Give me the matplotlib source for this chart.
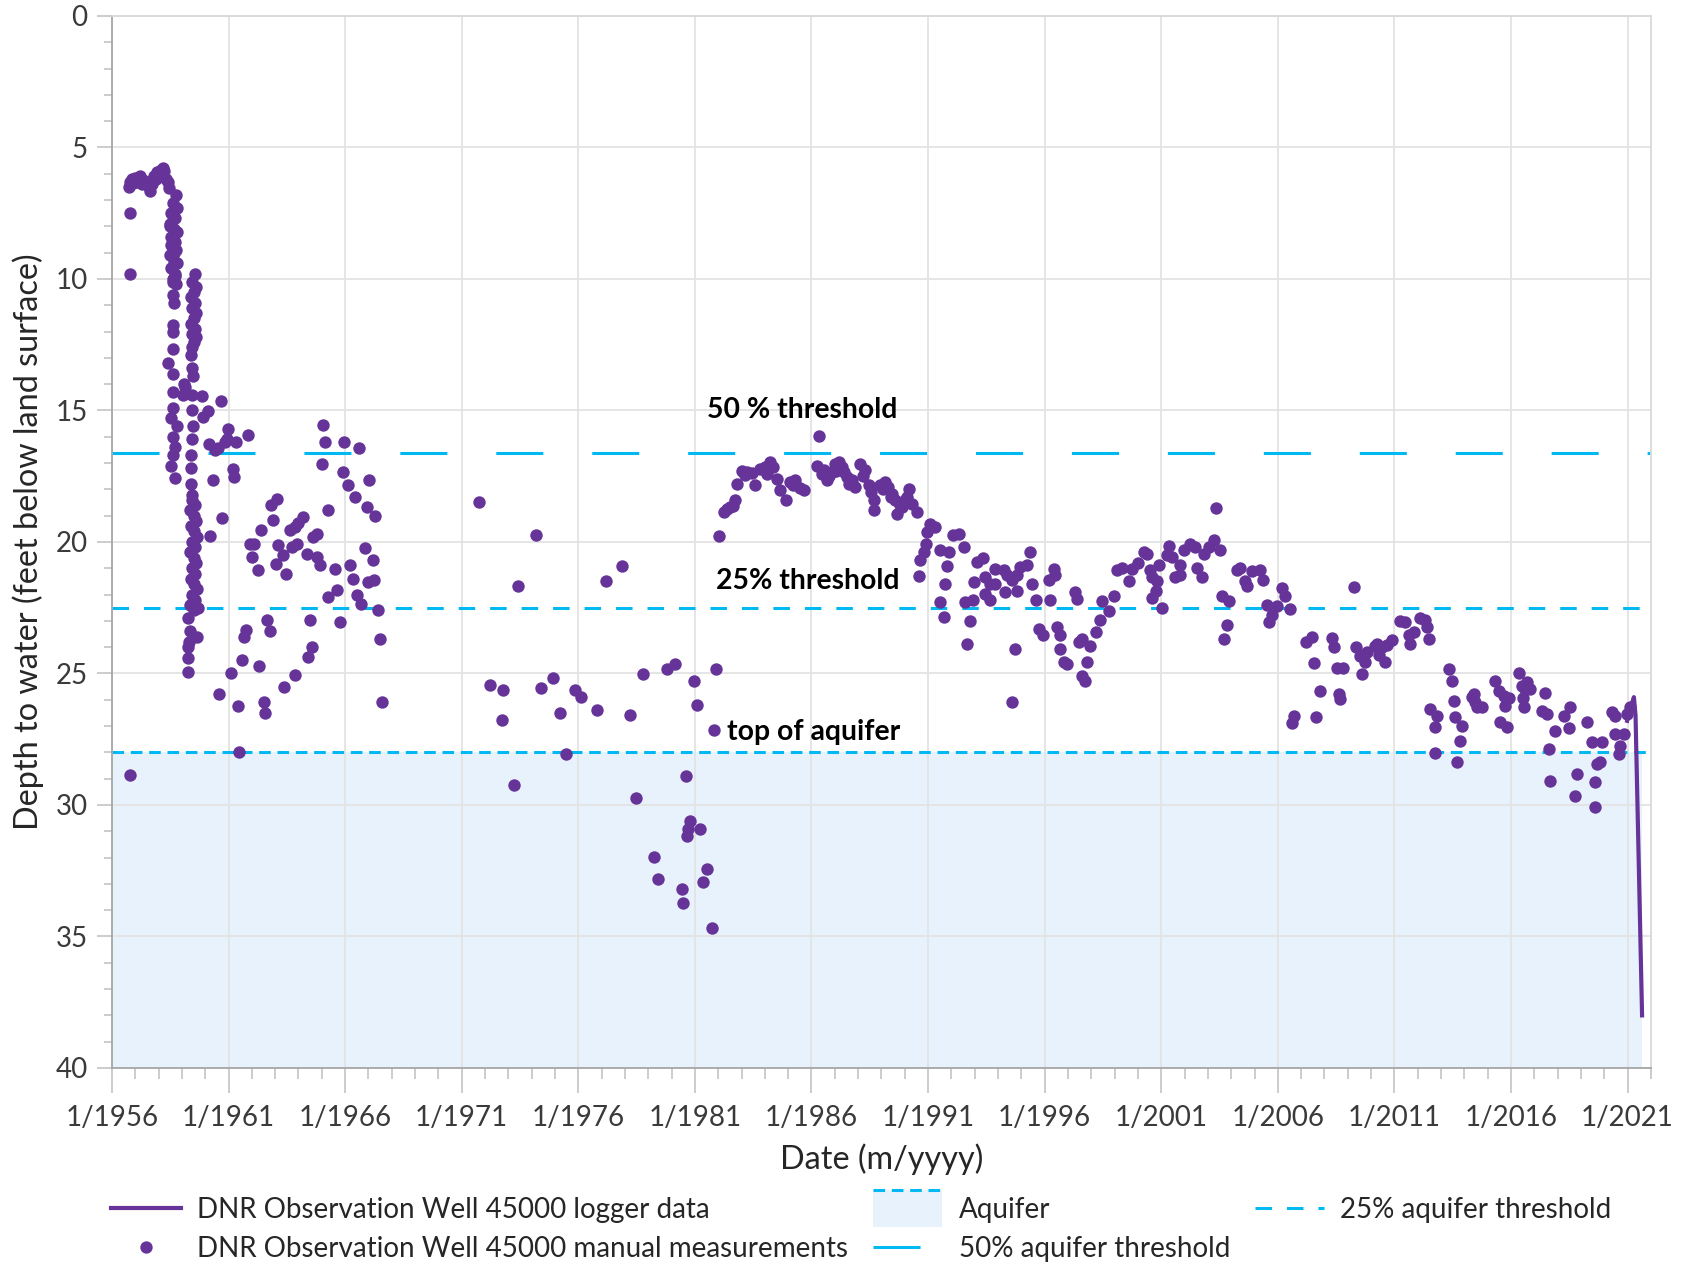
import numpy as np
import matplotlib.pyplot as plt
from matplotlib.lines import Line2D
from matplotlib.patches import Patch, Rectangle
from matplotlib.legend_handler import HandlerBase
from matplotlib.ticker import MultipleLocator

plt.rcParams['font.family'] = ['Lato', 'DejaVu Sans']

# Manual measurements, (decimal year, depth to water in ft) grouped by period
manual_1956_band = [
    (1956.72, 6.50), (1956.78, 6.30), (1956.85, 6.20), (1956.90, 6.35), (1956.98, 6.15),
    (1957.05, 6.30), (1957.12, 6.20), (1957.20, 6.10), (1957.28, 6.40), (1957.35, 6.25),
    (1957.42, 6.35), (1957.50, 6.30), (1957.58, 6.50), (1957.65, 6.65), (1957.72, 6.40),
    (1957.80, 6.10), (1957.88, 6.20), (1957.95, 5.95), (1958.02, 6.05), (1958.10, 5.85),
    (1958.18, 5.80), (1958.25, 5.90), (1958.32, 6.20), (1958.40, 6.30), (1958.45, 6.55),
    (1956.77, 7.50), (1956.77, 9.82), (1956.77, 28.85),
]
manual_1958_col = [
    (1958.75, 6.80), (1958.60, 7.10), (1958.80, 7.30), (1958.55, 7.50), (1958.70, 7.70),
    (1958.50, 7.90), (1958.65, 8.10), (1958.80, 8.20), (1958.55, 8.40), (1958.70, 8.60),
    (1958.60, 8.80), (1958.75, 8.90), (1958.50, 9.10), (1958.65, 9.30), (1958.80, 9.40),
    (1958.55, 9.60), (1958.70, 9.80), (1958.60, 10.00), (1958.75, 10.20), (1958.50, 8.00),
    (1958.65, 9.00), (1958.60, 7.60), (1958.55, 8.70), (1958.70, 9.90), (1958.62, 10.10),
    (1958.62, 10.60), (1958.65, 10.90), (1958.63, 11.75), (1958.60, 12.00), (1958.63, 12.65),
    (1958.42, 13.20), (1958.63, 13.60), (1959.10, 14.00), (1958.63, 14.30), (1959.05, 14.40),
    (1958.63, 14.90), (1958.78, 15.60), (1958.55, 15.30), (1958.63, 16.00), (1958.70, 16.40),
    (1958.63, 16.70), (1958.55, 17.10), (1958.70, 17.56),
]
manual_1959_col = [
    (1959.55, 9.80), (1959.45, 10.10), (1959.60, 10.30), (1959.50, 10.50), (1959.40, 10.70),
    (1959.55, 10.90), (1959.45, 11.10), (1959.60, 11.30), (1959.50, 11.50), (1959.40, 11.70),
    (1959.55, 11.90), (1959.45, 12.10), (1959.60, 12.20), (1959.50, 12.40), (1959.45, 12.60),
    (1959.40, 12.90), (1959.42, 13.40), (1959.48, 13.70), (1959.15, 14.10), (1959.45, 14.40),
    (1959.45, 15.00), (1959.48, 15.60), (1959.45, 16.10), (1959.40, 16.70), (1959.40, 17.20),
    (1959.40, 17.80), (1959.45, 18.20),
    (1959.45, 18.40), (1959.55, 18.60), (1959.35, 18.80), (1959.50, 19.00), (1959.60, 19.20),
    (1959.40, 19.40), (1959.50, 19.60), (1959.65, 19.80), (1959.45, 20.00), (1959.55, 20.20),
    (1959.35, 20.40), (1959.50, 20.60), (1959.60, 20.80), (1959.45, 21.00), (1959.55, 21.20),
    (1959.40, 21.40), (1959.50, 21.60), (1959.65, 21.80), (1959.45, 22.00), (1959.55, 22.20),
    (1959.35, 22.40), (1959.50, 22.60), (1959.70, 22.50), (1959.28, 22.90), (1959.35, 23.40),
    (1959.28, 24.00), (1959.25, 24.40), (1959.28, 24.96), (1959.65, 23.60), (1959.30, 23.80),
]
manual_1960s = [
    (1959.85, 14.46), (1960.66, 14.64), (1959.92, 15.25), (1960.13, 15.02), (1960.99, 15.69),
    (1960.92, 16.07), (1960.85, 16.20), (1960.18, 16.29), (1960.42, 16.51), (1960.56, 16.41),
    (1961.32, 16.20), (1961.82, 15.94), (1961.18, 17.21), (1961.25, 17.53), (1960.35, 17.63),
    (1960.73, 19.09), (1960.22, 19.77), (1962.39, 19.56), (1961.92, 20.07), (1962.09, 20.09),
    (1961.99, 20.57), (1962.25, 21.08), (1962.82, 18.60), (1963.06, 18.35), (1962.89, 19.15),
    (1963.04, 20.83), (1963.14, 20.12), (1963.35, 20.51), (1963.46, 21.23), (1963.64, 19.56),
    (1963.85, 19.43), (1963.99, 19.28), (1964.21, 19.05), (1963.71, 20.19), (1963.92, 20.09),
    (1964.35, 20.45), (1964.64, 19.81), (1964.78, 19.71), (1964.78, 20.57), (1964.92, 20.89),
    (1965.28, 18.77), (1965.07, 15.54), (1965.14, 16.20), (1965.00, 17.02), (1965.97, 16.20),
    (1966.60, 16.41), (1965.90, 17.34), (1966.14, 17.85), (1966.42, 18.29), (1967.02, 17.63),
    (1966.92, 18.67), (1967.30, 19.03), (1965.57, 21.04), (1966.21, 20.89), (1966.87, 20.23),
    (1967.18, 20.70), (1966.32, 21.42), (1966.99, 21.52), (1967.24, 21.46), (1965.28, 22.10),
    (1965.64, 21.84), (1966.50, 22.03), (1966.67, 22.35), (1967.43, 22.60), (1967.50, 23.68),
    (1967.57, 26.07), (1965.78, 23.05), (1964.49, 22.96), (1964.57, 24.00), (1964.42, 24.38),
    (1963.85, 25.04), (1963.39, 25.50), (1962.64, 22.96), (1962.78, 23.40), (1961.73, 23.34),
    (1961.66, 23.62), (1961.56, 24.48), (1962.32, 24.72), (1961.10, 24.99), (1960.59, 25.77),
    (1961.42, 26.24), (1962.52, 26.07), (1962.56, 26.51), (1961.44, 28.00),
]
manual_1970s = [
    (1971.76, 18.49), (1974.19, 19.73), (1973.43, 21.66), (1977.19, 21.48), (1977.89, 20.92),
    (1972.21, 25.45), (1972.79, 25.62), (1972.72, 26.75), (1974.39, 25.55), (1974.90, 25.16),
    (1975.22, 26.52), (1975.85, 25.62), (1976.12, 25.90), (1976.81, 26.40), (1975.46, 28.05),
    (1973.24, 29.23), (1978.21, 26.58), (1978.79, 25.03), (1979.79, 24.82), (1980.15, 24.65),
    (1980.97, 25.27), (1981.08, 26.19), (1981.91, 24.82), (1981.84, 27.14), (1980.62, 28.89),
    (1978.48, 29.75), (1980.77, 30.59), (1980.72, 30.91), (1981.22, 30.93), (1980.68, 31.18),
    (1979.24, 31.96), (1979.42, 32.80), (1980.45, 33.19), (1980.51, 33.71), (1981.54, 32.45),
    (1981.34, 32.92), (1981.74, 34.67),
]
manual_1980s = [
    (1982.05, 19.79), (1982.23, 18.86), (1982.37, 18.73), (1982.51, 18.67), (1982.65, 18.64),
    (1982.80, 17.81), (1983.01, 17.30), (1983.23, 17.34), (1983.44, 17.38), (1983.58, 17.84),
    (1983.80, 17.21), (1984.01, 17.15), (1984.23, 16.96), (1984.37, 17.15), (1984.54, 17.59),
    (1984.66, 18.01), (1984.91, 18.42), (1985.09, 17.72), (1985.30, 17.65), (1985.52, 17.93),
    (1985.66, 18.03), (1986.33, 15.98), (1986.23, 17.12), (1986.52, 17.27), (1986.66, 17.65),
    (1986.87, 17.34), (1987.02, 17.02), (1987.16, 16.96), (1987.30, 17.15), (1987.52, 17.53),
    (1987.73, 17.65), (1987.87, 17.91), (1988.09, 17.02), (1988.30, 17.27), (1988.45, 17.84),
    (1988.66, 18.42), (1988.66, 18.80), (1988.95, 17.84), (1989.16, 17.72), (1989.30, 17.91),
    (1989.45, 18.16), (1989.59, 18.42), (1989.66, 18.92), (1989.88, 18.67), (1990.02, 18.42),
    (1990.20, 17.97), (1990.30, 18.54), (1990.52, 18.86), (1986.45, 17.40), (1986.75, 17.50),
    (1987.05, 17.30), (1987.40, 17.35), (1987.60, 17.80), (1988.20, 17.50), (1988.55, 18.10),
    (1989.05, 18.00), (1989.40, 18.30), (1989.80, 18.60), (1990.10, 18.30), (1985.20, 17.85),
    (1984.10, 17.40), (1983.15, 17.45), (1982.70, 18.40),
]
manual_1990s = [
    (1991.09, 19.30), (1991.31, 19.43), (1990.95, 19.62), (1990.92, 20.06), (1990.83, 20.38),
    (1990.66, 20.70), (1990.63, 21.31), (1991.52, 20.29), (1991.88, 20.38), (1991.81, 20.91),
    (1992.09, 19.75), (1992.31, 19.68), (1992.52, 20.19), (1991.74, 21.59), (1991.52, 22.28),
    (1991.70, 22.85), (1992.66, 23.87), (1992.78, 23.02), (1992.59, 22.28), (1992.92, 22.20),
    (1992.95, 21.52), (1993.09, 20.76), (1993.35, 20.60), (1993.45, 21.33), (1993.67, 21.59),
    (1993.88, 21.59), (1993.45, 21.97), (1993.67, 22.22), (1993.88, 21.02), (1994.24, 21.08),
    (1994.38, 21.27), (1994.60, 21.46), (1994.81, 21.27), (1994.95, 20.95), (1995.24, 20.89),
    (1995.38, 20.38), (1995.45, 21.59), (1994.31, 21.90), (1994.81, 21.87), (1994.74, 24.06),
    (1994.60, 26.09), (1995.64, 22.22), (1996.21, 22.20), (1995.74, 23.30), (1995.93, 23.55),
    (1996.17, 21.46), (1996.38, 21.02), (1996.45, 21.27), (1996.52, 23.24), (1996.67, 23.55),
    (1996.67, 24.06), (1996.81, 24.57), (1996.95, 24.63), (1997.31, 21.90), (1997.38, 22.16),
    (1997.46, 23.81), (1997.60, 23.68), (1997.81, 24.57), (1997.93, 23.94), (1997.60, 25.08),
    (1997.74, 25.27), (1998.21, 23.43), (1998.36, 22.96), (1998.46, 22.23), (1998.74, 22.61),
    (1998.96, 22.07), (1999.10, 21.06), (1999.31, 20.98), (1999.60, 21.47), (1999.74, 21.02),
    (1999.99, 20.81),
]
manual_2000s = [
    (2000.24, 20.39), (2000.39, 20.45), (2000.50, 21.08), (2000.60, 21.34), (2000.82, 21.47),
    (2000.79, 21.85), (2000.60, 22.12), (2000.89, 20.86), (2001.03, 22.51), (2001.32, 20.17),
    (2001.25, 20.51), (2001.46, 20.58), (2001.82, 20.89), (2001.60, 21.34), (2001.82, 21.27),
    (2001.96, 20.32), (2002.24, 20.07), (2002.46, 20.20), (2002.53, 20.98), (2002.75, 21.34),
    (2002.82, 20.45), (2003.03, 20.20), (2003.25, 19.94), (2003.50, 20.30), (2003.36, 18.71),
    (2003.60, 22.04), (2003.89, 22.25), (2003.82, 23.14), (2003.68, 23.70), (2004.25, 21.08),
    (2004.39, 20.98), (2004.61, 21.47), (2004.68, 21.66), (2004.89, 21.11), (2005.25, 21.08),
    (2005.36, 21.44), (2005.53, 22.38), (2005.75, 22.76), (2005.61, 23.05), (2005.96, 22.42),
    (2006.18, 21.74), (2006.32, 22.07), (2006.51, 22.54), (2007.22, 23.81), (2007.47, 23.62),
    (2007.57, 24.61), (2008.32, 23.65), (2008.40, 24.00), (2008.54, 24.79), (2008.80, 24.79),
    (2008.61, 25.78), (2008.65, 25.97), (2007.82, 25.68), (2007.65, 26.67), (2006.68, 26.60),
    (2006.60, 26.90), (2009.28, 21.72), (2009.37, 23.98), (2009.54, 24.32), (2009.75, 24.57),
    (2009.61, 25.02), (2009.83, 24.19),
]
manual_2010s = [
    (2010.18, 23.94), (2010.47, 24.00), (2010.61, 24.57), (2010.25, 23.87), (2010.35, 24.30),
    (2010.68, 23.93), (2010.90, 23.72), (2011.25, 23.01), (2011.47, 23.05), (2011.61, 23.52),
    (2011.68, 23.87), (2011.83, 23.43), (2012.11, 22.88), (2012.33, 22.98), (2012.40, 23.24),
    (2012.47, 23.68), (2013.33, 24.82), (2013.47, 25.27), (2012.54, 26.35), (2012.83, 26.60),
    (2012.76, 27.04), (2012.76, 28.03), (2013.54, 26.05), (2013.61, 26.66), (2013.90, 26.98),
    (2013.83, 27.55), (2013.68, 28.37), (2014.33, 25.88), (2014.40, 25.77), (2014.54, 26.28),
    (2014.76, 26.28), (2014.45, 26.10), (2015.33, 25.27), (2015.47, 25.65), (2015.69, 25.84),
    (2015.90, 25.93), (2015.76, 26.22), (2015.54, 26.85), (2015.82, 27.04), (2016.33, 24.99),
    (2016.47, 25.46), (2016.69, 25.33), (2016.83, 25.58), (2016.52, 25.93), (2016.55, 26.28),
    (2016.60, 25.60), (2017.47, 25.75), (2017.33, 26.41), (2017.54, 26.53), (2017.90, 27.19),
    (2018.48, 27.07), (2018.26, 26.60), (2018.55, 26.28), (2017.62, 27.87), (2017.69, 29.07),
    (2018.83, 28.82), (2018.76, 29.64), (2019.62, 29.13), (2019.69, 28.44), (2019.83, 28.37),
    (2019.62, 30.09), (2019.26, 26.85), (2019.48, 27.61), (2019.91, 27.61), (2020.33, 26.47),
    (2020.48, 26.60), (2020.48, 27.30), (2020.84, 27.30), (2020.69, 27.74), (2020.62, 28.06),
    (2020.98, 26.53), (2021.09, 26.28),
]

# Continuous logger record at the end of the series
logger_years = [2020.98, 2021.10, 2021.20, 2021.27, 2021.34, 2021.62]
logger_depths = [26.8, 26.4, 26.1, 25.9, 26.6, 38.0]

# Reference levels (ft below land surface)
threshold_50 = 16.6
threshold_25 = 22.5
aquifer_top = 28.0
aquifer_bottom = 40.0

tick_years = list(range(1956, 2022, 5))
tick_labels = [f"1/{y}" for y in tick_years]

PURPLE = '#663399'
CYAN = '#00B9F2'
AQUIFER_FILL = '#E8F2FC'
DASH_50 = (15.4, 16)
DASH_25 = (5.4, 4.9)
DASH_TOP = (3.8, 2.2)


class AquiferHandler(HandlerBase):
    # filled box with a dashed top edge, taller than the text row
    def create_artists(self, legend, orig_handle, xdescent, ydescent,
                       width, height, fontsize, trans):
        h = height * 1.9
        y0 = -ydescent + height / 2 - h / 2
        box = Rectangle((-xdescent, y0), width, h, facecolor=AQUIFER_FILL,
                        edgecolor='none', transform=trans)
        top = Line2D([-xdescent, -xdescent + width], [y0 + h, y0 + h],
                     color=CYAN, lw=2.2, dashes=DASH_TOP, transform=trans)
        return [box, top]


manual = np.array(manual_1956_band + manual_1958_col + manual_1959_col + manual_1960s
                  + manual_1970s + manual_1980s + manual_1990s + manual_2000s + manual_2010s)

fig = plt.figure(figsize=(16.86, 12.66), dpi=100)
ax = fig.add_axes([0.0664, 0.1564, 0.9128, 0.8310])

ax.fill_between([1956, logger_years[-1]], aquifer_top, aquifer_bottom,
                color=AQUIFER_FILL, lw=0, zorder=1)
ax.axhline(aquifer_top, color=CYAN, lw=2.2, dashes=DASH_TOP, zorder=2)
ax.axhline(threshold_25, color=CYAN, lw=2.2, dashes=DASH_25, zorder=2)
ax.axhline(threshold_50, color=CYAN, lw=2.2, dashes=DASH_50, zorder=2)

ax.scatter(manual[:, 0], manual[:, 1], s=80, color=PURPLE, lw=0, zorder=3)
ax.plot(logger_years, logger_depths, color=PURPLE, lw=3, zorder=4)

ax.text(1981.5, 15.0, '50 % threshold', fontsize=20.4, fontweight='bold', va='center', ha='left')
ax.text(1981.92, 21.5, '25% threshold', fontsize=20.4, fontweight='bold', va='center', ha='left')
ax.text(1982.38, 27.24, 'top of aquifer', fontsize=20.4, fontweight='bold', va='center', ha='left')

ax.set_xlim(1956, 2022)
ax.set_ylim(40, 0)
ax.set_xticks(tick_years)
ax.set_xticklabels(tick_labels)
ax.xaxis.set_minor_locator(MultipleLocator(1))
ax.yaxis.set_major_locator(MultipleLocator(5))
ax.yaxis.set_minor_locator(MultipleLocator(1))

ax.set_axisbelow('line')
ax.grid(True, which='major', color='#E3E3E3', lw=1.3)

for side in ['left', 'bottom']:
    ax.spines[side].set_color('#A6A6A6')
    ax.spines[side].set_linewidth(1.3)
for side in ['top', 'right']:
    ax.spines[side].set_color('#D9D9D9')
    ax.spines[side].set_linewidth(1.3)

ax.tick_params(axis='x', which='major', length=18, width=1.1, color='#BFBFBF',
               pad=9, labelsize=20, labelcolor='#3A3A3A')
ax.tick_params(axis='x', which='minor', length=8, width=1.1, color='#BFBFBF')
ax.tick_params(axis='y', which='major', length=11, width=1.1, color='#BFBFBF',
               pad=6.5, labelsize=20, labelcolor='#3A3A3A')
ax.tick_params(axis='y', which='minor', length=5.5, width=1.1, color='#BFBFBF')

ax.set_xlabel('Date (m/yyyy)', fontsize=23.3, color='#262626')
ax.set_ylabel('Depth to water (feet below land surface)', fontsize=23.3, color='#262626')
ax.xaxis.set_label_coords(0.5, -0.072)
ax.yaxis.set_label_coords(-0.044, 0.5)

handles = [
    Line2D([], [], color=PURPLE, lw=3),
    Line2D([], [], color=PURPLE, marker='o', ls='none', markersize=8.9, markeredgewidth=0),
    Patch(facecolor=AQUIFER_FILL),
    Line2D([], [], color=CYAN, lw=2.2, dashes=DASH_50),
    Line2D([], [], color=CYAN, lw=2.2, dashes=DASH_25),
]
labels = [
    'DNR Observation Well 45000 logger data',
    'DNR Observation Well 45000 manual measurements',
    'Aquifer',
    '50% aquifer threshold',
    '25% aquifer threshold',
]
fig.legend(handles, labels, ncol=3, loc='center', bbox_to_anchor=(0.511, 0.029),
           frameon=False, fontsize=20, handlelength=2.5, handletextpad=0.58,
           columnspacing=0.9, labelspacing=0.45, labelcolor='#262626',
           handler_map={Patch: AquiferHandler()})

fig.savefig('out.png', dpi=100)
